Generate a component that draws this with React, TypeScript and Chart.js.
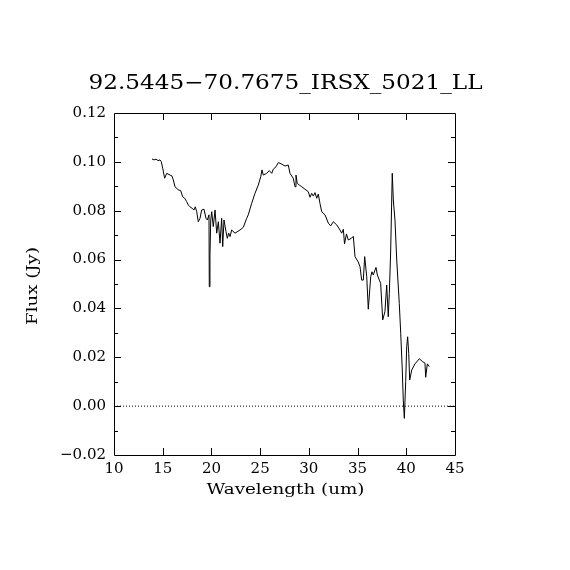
import React, { useEffect, useRef } from "react";
import { Chart, registerables } from "chart.js";

Chart.register(...registerables);

const TITLE = "92.5445\u221270.7675_IRSX_5021_LL";
const X_LABEL = "Wavelength (um)";
const Y_LABEL = "Flux (Jy)";

const wavelength = [
  13.9, 14.11, 14.31, 14.52, 14.72, 14.85, 15.0, 15.2, 15.41, 15.75, 15.95, 16.09, 16.26, 16.44, 16.6,
  16.85, 17.05, 17.26, 17.46, 17.63, 17.8, 18.01, 18.21, 18.34, 18.49, 18.65, 18.83, 19.0, 19.24, 19.44,
  19.58, 19.75, 19.78, 19.85, 19.93, 20.03, 20.19, 20.37, 20.54, 20.71, 20.88, 21.05, 21.16, 21.29, 21.5,
  21.63, 21.77, 21.91, 22.08, 22.42, 22.93, 23.27, 23.62, 23.78, 24.13, 24.47, 24.81, 25.06, 25.19, 25.32,
  25.67, 25.94, 26.19, 26.35, 26.63, 26.86, 27.21, 27.55, 27.89, 28.06, 28.4, 28.58, 28.68, 28.81, 29.02,
  29.27, 29.6, 29.94, 30.12, 30.29, 30.46, 30.63, 30.81, 30.97, 31.14, 31.32, 31.66, 32.0, 32.24, 32.51,
  32.86, 33.2, 33.37, 33.54, 33.66, 33.86, 34.05, 34.4, 34.56, 34.74, 35.07, 35.25, 35.42, 35.59, 35.73,
  35.94, 36.1, 36.35, 36.48, 36.61, 36.89, 37.03, 37.23, 37.37, 37.58, 37.81, 37.99, 38.15, 38.26, 38.4,
  38.56, 38.67, 38.84, 39.02, 39.28, 39.43, 39.59, 39.69, 39.8, 39.94, 40.04, 40.14, 40.25, 40.35, 40.56,
  40.89, 41.34, 41.68, 41.92, 41.99, 42.16, 42.36,
];

const flux = [
  0.1012, 0.1008, 0.1011, 0.1005, 0.1008, 0.1001, 0.0974, 0.0933, 0.0953, 0.0946, 0.0942, 0.0926, 0.0898, 0.0892, 0.0885,
  0.0882, 0.0857, 0.0851, 0.0837, 0.0823, 0.0816, 0.081, 0.0803, 0.0816, 0.0796, 0.0755, 0.0769, 0.0803, 0.0806, 0.0769,
  0.0762, 0.0783, 0.0489, 0.0619, 0.0762, 0.0796, 0.0735, 0.0803, 0.0708, 0.0755, 0.0667, 0.0769, 0.0653, 0.0762, 0.0714,
  0.0687, 0.0708, 0.0694, 0.0721, 0.0708, 0.0721, 0.0732, 0.0769, 0.0783, 0.083, 0.0871, 0.0905, 0.0939, 0.0967, 0.0946,
  0.0953, 0.0964, 0.0953, 0.097, 0.098, 0.0997, 0.0991, 0.0983, 0.0987, 0.0953, 0.0933, 0.0898, 0.0946, 0.0912, 0.0905,
  0.0898, 0.0888, 0.0878, 0.0855, 0.0871, 0.086, 0.0874, 0.0851, 0.0868, 0.083, 0.0796, 0.0783, 0.0749, 0.0738, 0.0755,
  0.0742, 0.0721, 0.0708, 0.0724, 0.0664, 0.0705, 0.068, 0.0688, 0.0695, 0.0612, 0.059, 0.0571, 0.0516, 0.0516, 0.0612,
  0.053, 0.0397, 0.053, 0.055, 0.0537, 0.0568, 0.0537, 0.0516, 0.0503, 0.0353, 0.0387, 0.0496, 0.0366, 0.0462, 0.0639,
  0.0953, 0.0844, 0.0762, 0.0598, 0.0421, 0.0298, 0.0148, 0.0025, -0.005, 0.01, 0.0243, 0.0284, 0.0216, 0.0107, 0.0148,
  0.0173, 0.0194, 0.0182, 0.0176, 0.0118, 0.0173, 0.0162,
];

const X_MIN = 10;
const X_MAX = 45;
const X_STEP = 5;
const Y_MIN = -0.02;
const Y_MAX = 0.12;
const Y_STEP = 0.02;
const Y_MINOR = 0.01;

const SERIF = "'DejaVu Serif', 'Liberation Serif', serif";

function fitText(ctx: CanvasRenderingContext2D, text: string, x: number, y: number, w: number, font: string, rot = 0) {
  ctx.save();
  ctx.font = font;
  ctx.fillStyle = "#000";
  ctx.textAlign = "center";
  ctx.textBaseline = "middle";
  const m = ctx.measureText(text).width;
  ctx.translate(x, y);
  if (rot) ctx.rotate(rot);
  ctx.scale(w / m, 1);
  ctx.fillText(text, 0, 0);
  ctx.restore();
}

const framePlugin = {
  id: "frame",
  afterDraw(chart: any) {
    const { ctx, chartArea: a, scales } = chart;
    const xs = scales.x;
    const ys = scales.y;
    ctx.save();
    ctx.strokeStyle = "#000";
    ctx.lineWidth = 1;
    ctx.beginPath();
    ctx.rect(Math.round(a.left) + 0.5, Math.round(a.top) + 0.5, Math.round(a.right - a.left), Math.round(a.bottom - a.top));
    ctx.stroke();
    ctx.beginPath();
    for (let v = X_MIN + X_STEP; v < X_MAX - 1e-9; v += X_STEP) {
      const px = Math.round(xs.getPixelForValue(v)) + 0.5;
      ctx.moveTo(px, a.bottom);
      ctx.lineTo(px, a.bottom - 7);
      ctx.moveTo(px, a.top);
      ctx.lineTo(px, a.top + 7);
    }
    const n = Math.round((Y_MAX - Y_MIN) / Y_MINOR);
    for (let i = 1; i < n; i++) {
      const v = Y_MIN + i * Y_MINOR;
      const len = i % 2 === 0 ? 7 : 4;
      const py = Math.round(ys.getPixelForValue(v)) + 0.5;
      ctx.moveTo(a.left, py);
      ctx.lineTo(a.left + len, py);
      ctx.moveTo(a.right, py);
      ctx.lineTo(a.right - len, py);
    }
    ctx.stroke();
    ctx.restore();

    const cx = (a.left + a.right) / 2;
    fitText(ctx, TITLE, cx + 1, 84, 394, `20px ${SERIF}`);
    fitText(ctx, X_LABEL, cx + 1, 490, 158, `15px ${SERIF}`);
    fitText(ctx, Y_LABEL, 33, 286, 78, `15px ${SERIF}`, -Math.PI / 2);
  },
};

export default function App() {
  const ref = useRef<HTMLCanvasElement | null>(null);
  useEffect(() => {
    if (!ref.current) return;
    const points = wavelength.map((w, i) => ({ x: w, y: flux[i] }));
    const chart = new Chart(ref.current, {
      type: "line",
      data: {
        datasets: [
          {
            data: [
              { x: X_MIN, y: 0 },
              { x: X_MAX, y: 0 },
            ],
            borderColor: "#000",
            borderWidth: 1,
            borderDash: [1, 2],
            pointRadius: 0,
            order: 2,
          },
          {
            data: points,
            borderColor: "#000",
            borderWidth: 1,
            pointRadius: 0,
            tension: 0,
            order: 1,
          },
        ],
      },
      options: {
        animation: false,
        responsive: false,
        events: [],
        layout: { padding: { top: 113, right: 115, left: 0, bottom: 0 } },
        plugins: { legend: { display: false }, tooltip: { enabled: false }, title: { display: false } },
        scales: {
          x: {
            type: "linear",
            min: X_MIN,
            max: X_MAX,
            grid: { display: false, drawTicks: false },
            border: { display: false },
            ticks: {
              stepSize: X_STEP,
              padding: 5,
              color: "#000",
              maxRotation: 0,
              font: { family: SERIF, size: 15 },
            },
            afterFit: (s: any) => {
              s.height = 115;
            },
          },
          y: {
            type: "linear",
            min: Y_MIN,
            max: Y_MAX,
            grid: { display: false, drawTicks: false },
            border: { display: false },
            ticks: {
              stepSize: Y_STEP,
              padding: 8,
              color: "#000",
              font: { family: SERIF, size: 15 },
              callback: (v: any) => {
                const n = Number(v);
                const s = Math.abs(n).toFixed(2);
                return n < -1e-9 ? "\u2212" + s : s;
              },
            },
            afterFit: (s: any) => {
              s.width = 114;
            },
          },
        },
      },
      plugins: [framePlugin],
    });
    return () => chart.destroy();
  }, []);
  return (
    <div style={{ position: "fixed", left: 0, top: 0, width: 570, height: 570, background: "#fff" }}>
      <canvas ref={ref} width={570} height={570} style={{ width: 570, height: 570, display: "block" }} />
    </div>
  );
}
